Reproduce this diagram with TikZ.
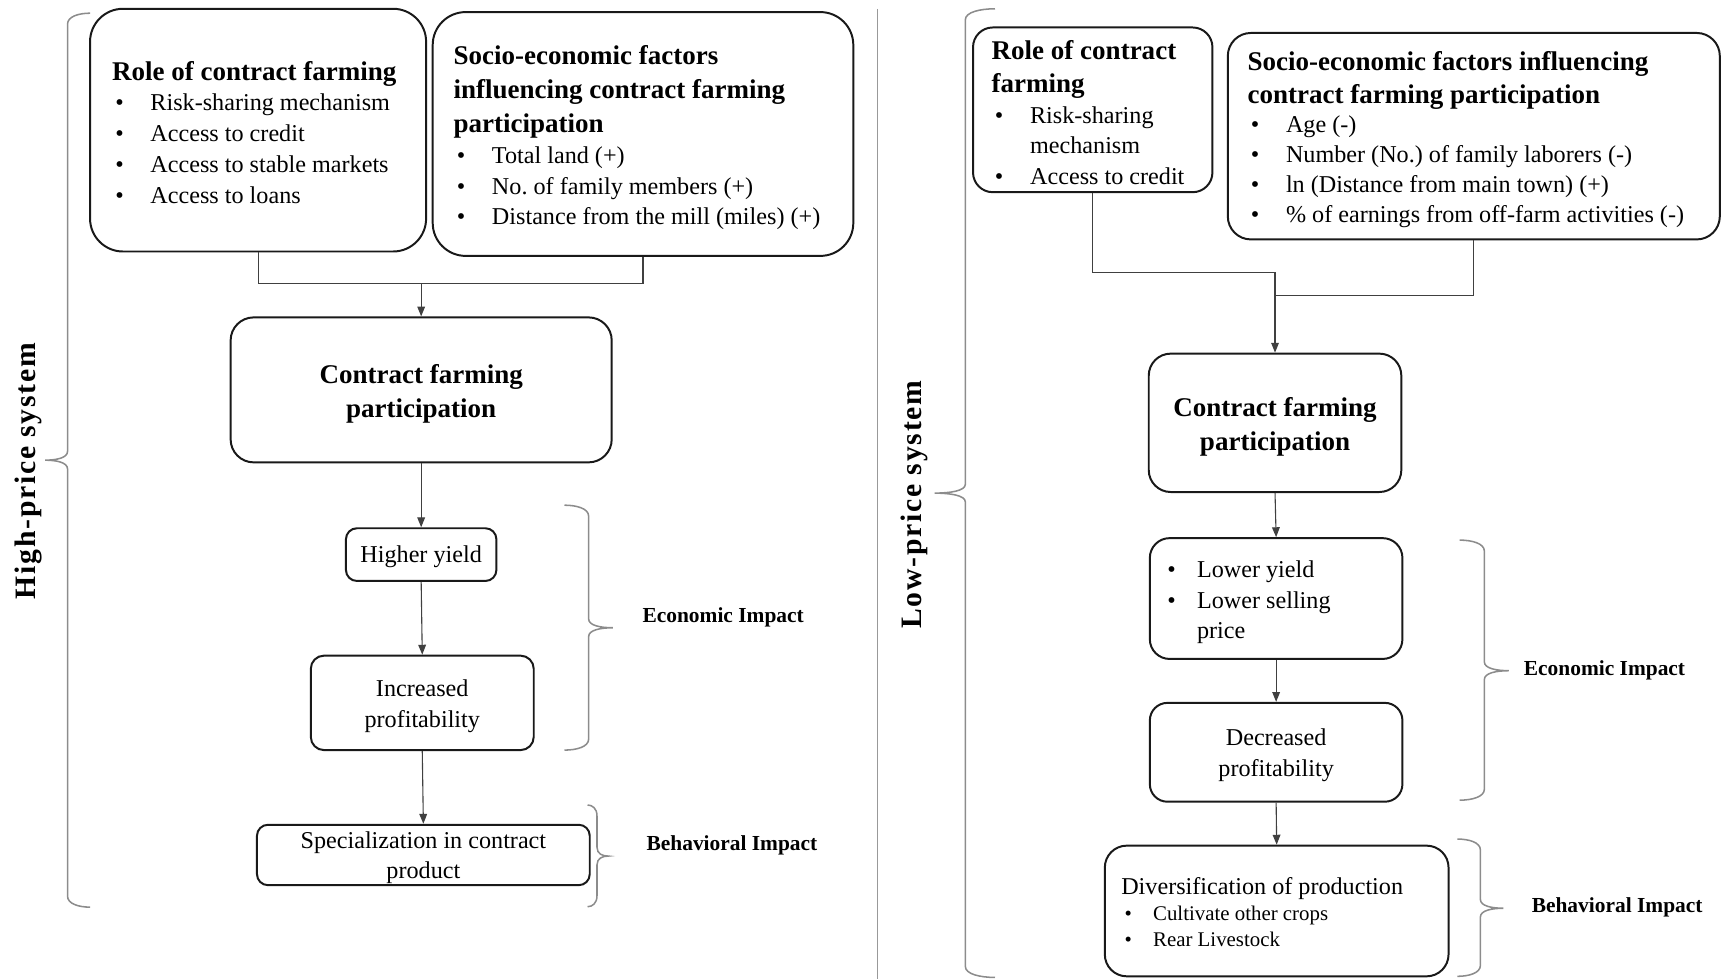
\documentclass[tikz,border=0pt]{standalone}
\usepackage{fontspec}
\setmainfont{Liberation Serif}
\usetikzlibrary{arrows.meta,calc}

\newcommand{\bli}[2]{\leavevmode\hbox{\makebox[#1][l]{\hspace{1.5pt}\textbullet}#2}\par}
\newcommand{\bci}[2]{\leavevmode\hbox{\hspace*{#1}#2}\par}
\newcommand{\bl}[1]{\bli{17.5pt}{#1}}
\newcommand{\bc}[1]{\bci{17.5pt}{#1}}
\newcommand{\hl}[1]{\leavevmode\hbox{#1}\par}
\newcommand{\hdf}{\fontsize{12.3}{15.5}\selectfont\bfseries}
\newcommand{\bdf}{\fontsize{11}{14}\selectfont\frenchspacing}
\newcommand{\smf}{\fontsize{9.5}{12}\selectfont}
% #1 downward shift, #2 width, #3 text
\newcommand{\txtL}[3]{\raisebox{-#1}[\height][\depth]{\parbox{#2}{\raggedright #3}}}
\newcommand{\txtC}[3]{\raisebox{-#1}[\height][\depth]{\parbox{#2}{\centering #3}}}
\newcommand{\mybrace}[6]{%
 \draw[bracestyle] (#1,#4) .. controls ({(#1+#2)/2},#4) and (#2,{#4+3}) .. (#2,{#4+10})
   -- (#2,{#5-8}) .. controls (#2,{#5-2}) and ({(#2+#3)/2},#5) .. (#3,#5)
   .. controls ({(#2+#3)/2},#5) and (#2,{#5+2}) .. (#2,{#5+8})
   -- (#2,{#6-10}) .. controls (#2,{#6-3}) and ({(#1+#2)/2},#6) .. (#1,#6);}

\begin{document}
\begin{tikzpicture}[x=0.5pt,y=-0.5pt,
  card/.style={draw=black!90, line width=0.9pt, inner sep=0pt, font=\bdf},
  conn/.style={draw=black!75, line width=0.5pt},
  arr/.style={conn, -{Triangle[length=4.5pt,width=3.5pt]}},
  bracestyle/.style={draw=black!45, line width=0.7pt},
  lab/.style={font=\fontsize{9.75}{12}\selectfont\bfseries},
  sys/.style={font=\fontsize{13.5}{16}\selectfont\bfseries\addfontfeature{LetterSpace=6}}]
\useasboundingbox (0,0) rectangle (1568,891);

% divider
\draw[draw=black!40, line width=0.5pt] (799,8) -- (799,891);

% ---------------- Left panel ----------------
\node[card, rounded corners=15pt, minimum width=153pt, minimum height=110.5pt] (L1) at (235,118.5)
 {\txtL{1pt}{133pt}{{\hdf\hl{Role of contract farming}}\bl{Risk-sharing mechanism}\bl{Access to credit}\bl{Access to stable markets}\bl{Access to loans}}};
\node[card, rounded corners=15pt, minimum width=191.5pt, minimum height=111pt] (L2) at (585.5,122)
 {\txtL{1.75pt}{172.5pt}{{\hdf\hl{Socio-economic factors}\hl{influencing contract farming}\hl{participation}}\bl{Total land (+)}\bl{No. of family members (+)}\bl{Distance from the mill (miles) (+)}}};
\node[card, font=\hdf, rounded corners=10.5pt, minimum width=173.5pt, minimum height=66pt] (L3) at (383.5,355)
 {\txtC{2pt}{170pt}{Contract farming\\participation}};
\node[card, rounded corners=5pt, minimum width=68.5pt, minimum height=24pt] (L4) at (383.5,505)
 {\txtC{1pt}{66pt}{Higher yield}};
\node[card, rounded corners=6pt, minimum width=101.5pt, minimum height=43pt] (L5) at (384.5,640)
 {\txtC{1.5pt}{99pt}{Increased\\profitability}};
\node[card, rounded corners=5pt, minimum width=151.5pt, minimum height=27.5pt] (L6) at (385.5,778.5)
 {\txtC{1.25pt}{149pt}{Specialization in contract\\product}};

\path (L3.north) ++(0,-30) coordinate (mL);
\draw[conn] (L1.south) |- (mL);
\draw[conn] (L2.south) |- (mL);
\draw[arr] (mL) -- (L3.north);
\draw[arr] (L3.south) -- (L4.north);
\draw[arr] (L4.south) -- (L5.north);
\draw[arr] (L5.south) -- (L6.north);

\mybrace{82}{61.5}{41}{12}{419}{826}
\mybrace{514}{536}{558}{460}{571.6}{683}
\mybrace{535}{543.6}{553.7}{733}{779.5}{825.6}

\node[sys, rotate=90] (hp) at (26,429) {High-price system};
\node[lab] (eL) at (658.5,562) {Economic Impact};
\node[lab] (bL) at (666.5,770) {Behavioral Impact};

% ---------------- Right panel ----------------
\node[card, rounded corners=9pt, minimum width=109pt, minimum height=75pt] (R1) at (995,100)
 {\txtL{1.25pt}{92pt}{{\hdf\fontsize{12.3}{15}\selectfont\hl{Role of contract}\hl{farming}}\bl{Risk-sharing}\bc{mechanism}\bl{Access to credit}}};
\node[card, rounded corners=10.5pt, minimum width=224pt, minimum height=94pt] (R2) at (1342,124)
 {\txtL{1.5pt}{206pt}{{\hdf\fontsize{12.3}{15}\selectfont\hl{Socio-economic factors influencing}\hl{contract farming participation}}\fontsize{11}{13.6}\selectfont\bl{Age (-)}\bl{Number (No.) of family laborers (-)}\bl{ln (Distance from main town) (+)}\bl{\% of earnings from off-farm activities (-)}}};
\node[card, font=\hdf, rounded corners=10pt, minimum width=115pt, minimum height=63pt] (R3) at (1161,385)
 {\txtC{1.75pt}{112pt}{Contract farming\\participation}};
\node[card, rounded corners=9pt, minimum width=115pt, minimum height=55pt] (R4) at (1162,545)
 {\txtL{1.75pt}{102pt}{\bli{15pt}{Lower yield}\bli{15pt}{Lower selling}\bci{15pt}{price}}};
\node[card, rounded corners=8pt, minimum width=115pt, minimum height=45pt] (R5) at (1162,685)
 {\txtC{1.5pt}{112pt}{Decreased\\profitability}};
\node[card, rounded corners=10pt, minimum width=156.5pt, minimum height=59.5pt] (R6) at (1162.5,829.5)
 {\txtL{0.5pt}{141.5pt}{\hl{Diversification of production}{\smf\bli{14.5pt}{Cultivate other crops}\bli{14.5pt}{Rear Livestock}}}};

\path (R3.north) ++(0,-73) coordinate (mR);
\path (R3.north) ++(0,-52) coordinate (mR2);
\draw[conn] (R1.south) |- (mR);
\draw[conn] (R2.south) |- (mR2);
\draw[arr] (mR) -- (R3.north);
\draw[arr] (R3.south) -- (R4.north);
\draw[arr] (R4.south) -- (R5.north);
\draw[arr] (R5.south) -- (R6.north);

\mybrace{906}{879}{851}{8}{449}{890}
\mybrace{1329}{1351.6}{1374}{491.8}{610.7}{728.6}
\mybrace{1327}{1348}{1369}{764}{827}{889}

\node[sys, rotate=90] (lp) at (833,459.5) {Low-price system};
\node[lab] (eR) at (1461,610) {Economic Impact};
\node[lab] (bR) at (1472.5,826) {Behavioral Impact};
\end{tikzpicture}
\end{document}
